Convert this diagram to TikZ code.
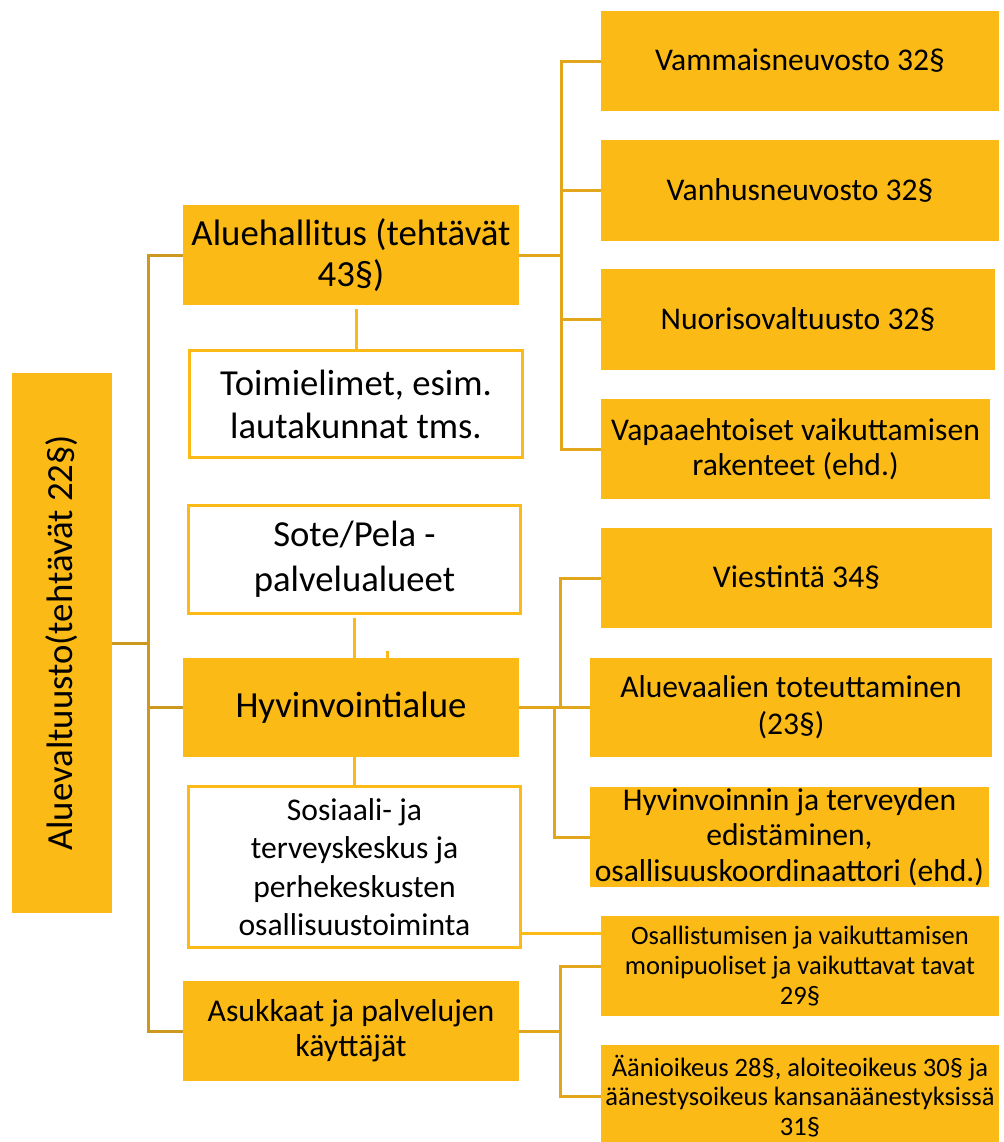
\documentclass[tikz,border=0pt]{standalone}
\usepackage{fontspec}
\setmainfont{Carlito}
\definecolor{boxor}{RGB}{251,186,22}
\definecolor{trunkc}{RGB}{205,152,30}
\definecolor{sidec}{RGB}{226,166,28}
\begin{document}
\begin{tikzpicture}[x=0.75pt,y=-0.75pt,
  base/.style={rectangle, inner sep=0pt, outer sep=0pt, align=center, anchor=north west, text=black},
  obox/.style={base, fill=boxor},
  wbox/.style={base, fill=white, draw=boxor, line width=2.25pt},
  sz/.style 2 args={minimum width=#1*0.75pt, minimum height=#2*0.75pt},
  fbig/.style={font=\fontsize{27.6pt}{31.5pt}\selectfont},
  fmid/.style={font=\fontsize{23.7pt}{26.5pt}\selectfont},
  fsmall/.style={font=\fontsize{19.9pt}{22.3pt}\selectfont},
  trunkline/.style={draw=trunkc, line width=2.25pt},
  sideline/.style={draw=sidec, line width=2.25pt},
  midline/.style={draw=boxor, line width=2.25pt}
]
\useasboundingbox (0,0) rectangle (1003,1142);
\clip (0,0) rectangle (1003,1142);

% left column
\node[obox, sz={100}{540}] (A) at (12,373) {};
\node[rotate=90, font=\fontsize{27.6pt}{31.5pt}\selectfont, inner sep=0pt] (At) at (A.center) {Aluevaltuusto(tehtävät 22§)};

% middle column
\node[obox, sz={336}{100}, fbig, font=\fontsize{27.6pt}{31.3pt}\selectfont] (AH) at (183,205) {Aluehallitus (tehtävät\\43§)};
\node[wbox, sz={333}{107}, font=\fontsize{27.5pt}{32.3pt}\selectfont] (TO) at (189.5,350.5) {Toimielimet, esim.\\lautakunnat tms.};
\node[wbox, sz={332}{108}, font=\fontsize{27.5pt}{33.8pt}\selectfont] (SP) at (188.5,505.5) {Sote/Pela -\\palvelualueet};
\node[obox, sz={336}{99}, fbig] (HV) at (183,658) {Hyvinvointialue};
\node[wbox, sz={332}{161}, font=\fontsize{23.7pt}{28.7pt}\selectfont] (SO) at (188.5,786.5) {Sosiaali- ja\\terveyskeskus ja\\perhekeskusten\\osallisuustoiminta};
\node[obox, sz={336}{100}, font=\fontsize{23.8pt}{26.3pt}\selectfont] (AS) at (183,981) {Asukkaat ja palvelujen\\käyttäjät};

% right column
\node[obox, sz={398}{100}, fmid] (V1) at (601,11) {Vammaisneuvosto 32§};
\node[obox, sz={398}{101}, fmid] (V2) at (601,140) {Vanhusneuvosto 32§};
\node[obox, sz={394}{101}, fmid] (V3) at (601,269) {Nuorisovaltuusto 32§};
\node[obox, sz={389}{100}, fmid] (V4) at (601,399) {Vapaaehtoiset vaikuttamisen\\rakenteet (ehd.)};
\node[obox, sz={391}{100}, fmid] (VI) at (601,528) {Viestintä 34§};
\node[obox, sz={402}{99}, font=\fontsize{23.7pt}{27.5pt}\selectfont] (AV) at (590,658) {Aluevaalien toteuttaminen\\(23§)};
\node[obox, sz={399}{100}, fmid] (HY) at (590,787) {Hyvinvoinnin ja terveyden\\edistäminen,\\osallisuuskoordinaattori (ehd.)};
\node[obox, sz={398}{100}, fsmall] (OS) at (601,916) {Osallistumisen ja vaikuttamisen\\monipuoliset ja vaikuttavat tavat\\29§};
\node[obox, sz={398}{102}, fsmall] (AA) at (601,1045) {Äänioikeus 28§, aloiteoikeus 30§ ja\\äänestysoikeus kansanäänestyksissä\\31§};

% left trunk
\coordinate (t) at (148,643);
\draw[trunkline] (A.east) -- (t);
\draw[trunkline] (AH.west) -| (t);
\draw[trunkline] (HV.west) -- (HV.west -| t);
\draw[trunkline] (AS.west) -| (t);

% right tree 1
\coordinate (r1) at (561,255);
\draw[sideline] (AH.east) -- (r1);
\foreach \n in {V1,V2,V3,V4} \draw[sideline] (\n.west) -| (r1);

% right tree 2
\coordinate (r2a) at (560,707.5);
\coordinate (r2b) at (554,707.5);
\draw[sideline] (HV.east) -- (AV.west);
\draw[sideline] (VI.west) -| (r2a);
\draw[sideline] (HY.west) -| (r2b);

% right tree 3
\coordinate (r3) at (560,1031);
\draw[sideline] (AS.east) -- (r3);
\draw[sideline] (OS.west) -| (r3);
\draw[sideline] (AA.west) -| (r3);

% middle verticals
\draw[midline, shorten <=3pt] (AH.south -| TO.north) -- (TO.north);
\draw[midline, shorten <=3pt] (SP.south) -- (SP.south |- HV.north);
\draw[midline] (HV.south -| SO.north) -- (SO.north);
\coordinate (stub) at (387,651);
\draw[midline] (stub) -- (stub |- HV.north);
\coordinate (sj) at (522,933);
\draw[midline] (sj) -- (sj -| OS.west);
\end{tikzpicture}
\end{document}
